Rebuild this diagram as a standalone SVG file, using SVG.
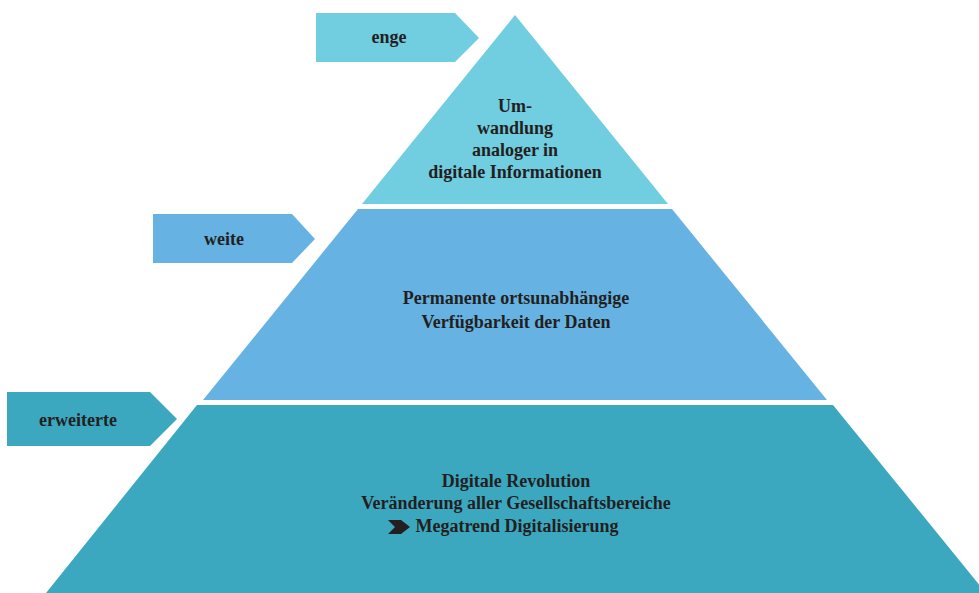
<svg xmlns="http://www.w3.org/2000/svg" width="979" height="593" viewBox="0 0 979 593">
<style>
.t{font-family:"Liberation Serif","Times New Roman",serif;font-weight:bold;font-size:18px;fill:#231f20;text-anchor:middle}
.c1{fill:#71cde0}.c2{fill:#66b3e3}.c3{fill:#3ba8c0}
</style>
<rect width="979" height="593" fill="#fff"/>
<g id="level-top">
<polygon class="c1" points="515,15 668,204 362,204"/>
<text class="t" x="515" y="112">Um-</text>
<text class="t" x="515" y="134">wandlung</text>
<text class="t" x="515" y="156">analoger in</text>
<text class="t" x="515" y="178">digitale Informationen</text>
</g>
<g id="level-middle">
<polygon class="c2" points="358,209 672,209 827,400 203,400"/>
<text class="t" x="516" y="304">Permanente ortsunabhängige</text>
<text class="t" x="516" y="328">Verfügbarkeit der Daten</text>
</g>
<g id="level-bottom">
<polygon class="c3" points="197,405 833,405 986,593 46,593"/>
<text class="t" x="516" y="487">Digitale Revolution</text>
<text class="t" x="516" y="509">Veränderung aller Gesellschaftsbereiche</text>
<polygon fill="#231f20" points="388,520 401,520 410,527 401,534 388,534 395,527"/>
<text class="t" x="517" y="532">Megatrend Digitalisierung</text>
</g>
<g id="label-enge">
<polygon class="c1" points="316,13 455,13 479,38 455,62 316,62"/>
<text class="t" x="389" y="43">enge</text>
</g>
<g id="label-weite">
<polygon class="c2" points="153,214 292,214 315,239 292,263 153,263"/>
<text class="t" x="224" y="245">weite</text>
</g>
<g id="label-erweiterte">
<polygon class="c3" points="7,392 150,392 177,419 150,446 7,446"/>
<text class="t" x="78" y="426">erweiterte</text>
</g>
<g id="connectors"/>
</svg>
